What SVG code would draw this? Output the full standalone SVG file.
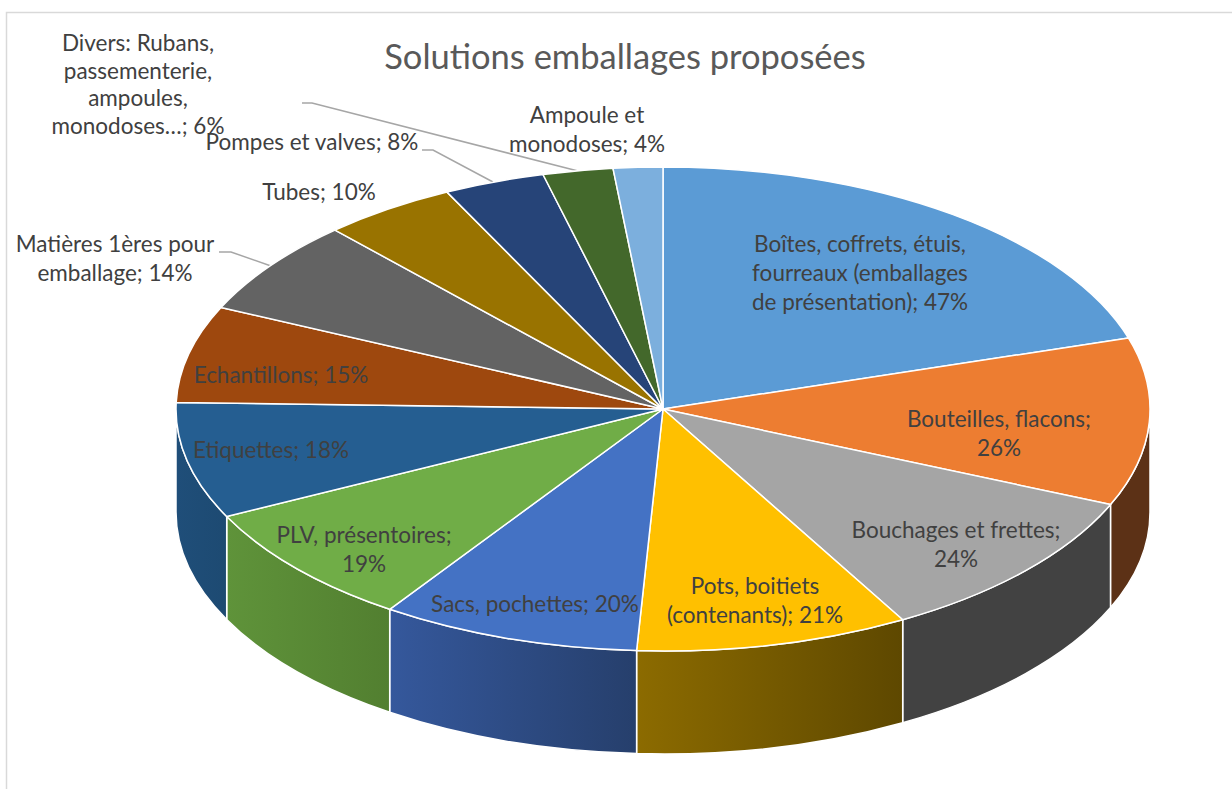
<svg xmlns="http://www.w3.org/2000/svg" width="1232" height="789" viewBox="0 0 1232 789">
<defs>
<style>
.t{stroke:#fff;stroke-width:1.5;stroke-linejoin:round}
.s{stroke:#fff;stroke-width:1.5;stroke-linejoin:round}
.lb{font-family:Lato,"Liberation Sans",sans-serif;font-size:22.5px;fill:#404040;text-anchor:middle}
.ttl{font-family:Lato,"Liberation Sans",sans-serif;font-size:34.5px;fill:#595959;text-anchor:middle}
.ld{fill:none;stroke:#A6A6A6;stroke-width:1.5}
</style>
<linearGradient id="gPots" x1="0" y1="0" x2="1" y2="0"><stop offset="0" stop-color="#8C6B00"/><stop offset="1" stop-color="#5E4800"/></linearGradient>
<linearGradient id="gSacs" x1="0" y1="0" x2="1" y2="0"><stop offset="0" stop-color="#35589C"/><stop offset="1" stop-color="#263F6C"/></linearGradient>
<linearGradient id="gPlv" x1="0" y1="0" x2="1" y2="0"><stop offset="0" stop-color="#5F933A"/><stop offset="1" stop-color="#527F30"/></linearGradient>
<linearGradient id="gEti" x1="0" y1="0" x2="1" y2="0"><stop offset="0" stop-color="#1F4E79"/><stop offset="1" stop-color="#1D4A72"/></linearGradient>
</defs>
<rect x="6.5" y="12.5" width="1240" height="800" fill="#fff" stroke="#D9D9D9" stroke-width="1.5"/>
<text class="ttl" x="625" y="69">Solutions emballages proposées</text>

<g id="connectors">
<polyline class="ld" points="302,103 312,103 578,171"/>
<polyline class="ld" points="422,150 433,150 493,182"/>
<polyline class="ld" points="219,252 231,252 271,266"/>
</g>

<g id="sides">
<path class="s" fill="#5C3116" d="M1150,409 A487,242 0 0 1 1110.5,504.6 L1110.5,607.6 A487,242 0 0 0 1150,512 Z"/>
<path class="s" fill="#424242" d="M1110.5,504.6 A487,242 0 0 1 902.7,619.7 L902.7,722.7 A487,242 0 0 0 1110.5,607.6 Z"/>
<path class="s" fill="url(#gPots)" d="M902.7,619.7 A487,242 0 0 1 636.6,650.6 L636.6,753.6 A487,242 0 0 0 902.7,722.7 Z"/>
<path class="s" fill="url(#gSacs)" d="M636.6,650.6 A487,242 0 0 1 389.7,609.3 L389.7,712.3 A487,242 0 0 0 636.6,753.6 Z"/>
<path class="s" fill="url(#gPlv)" d="M389.7,609.3 A487,242 0 0 1 226.7,516.5 L226.7,619.5 A487,242 0 0 0 389.7,712.3 Z"/>
<path class="s" fill="url(#gEti)" d="M226.7,516.5 A487,242 0 0 1 176,409 L176,512 A487,242 0 0 0 226.7,619.5 Z"/>
</g>

<g id="boites">
<path class="t" fill="#5B9BD5" d="M663,409 L663,167 A487,242 0 0 1 1128.5,338 Z"/>
<text class="lb" x="860" y="252">Boîtes, coffrets, étuis,</text>
<text class="lb" x="860" y="281">fourreaux (emballages</text>
<text class="lb" x="860" y="310">de présentation); 47%</text>
</g>
<g id="bouteilles">
<path class="t" fill="#ED7D31" d="M663,409 L1128.5,338 A487,242 0 0 1 1110.5,504.6 Z"/>
<text class="lb" x="999" y="427">Bouteilles, flacons;</text>
<text class="lb" x="999" y="456">26%</text>
</g>
<g id="bouchages">
<path class="t" fill="#A5A5A5" d="M663,409 L1110.5,504.6 A487,242 0 0 1 902.7,619.7 Z"/>
<text class="lb" x="956" y="538">Bouchages et frettes;</text>
<text class="lb" x="956" y="567">24%</text>
</g>
<g id="pots">
<path class="t" fill="#FFC000" d="M663,409 L902.7,619.7 A487,242 0 0 1 636.6,650.6 Z"/>
<text class="lb" x="755" y="594">Pots, boitiets</text>
<text class="lb" x="755" y="623">(contenants); 21%</text>
</g>
<g id="sacs">
<path class="t" fill="#4472C4" d="M663,409 L636.6,650.6 A487,242 0 0 1 389.7,609.3 Z"/>
<text class="lb" x="535" y="612">Sacs, pochettes; 20%</text>
</g>
<g id="plv">
<path class="t" fill="#70AD47" d="M663,409 L389.7,609.3 A487,242 0 0 1 226.7,516.5 Z"/>
<text class="lb" x="364" y="543">PLV, présentoires;</text>
<text class="lb" x="364" y="572">19%</text>
</g>
<g id="etiquettes">
<path class="t" fill="#255E91" d="M663,409 L226.7,516.5 A487,242 0 0 1 176.2,402.4 Z"/>
<text class="lb" x="271" y="458">Etiquettes; 18%</text>
</g>
<g id="echantillons">
<path class="t" fill="#9E480E" d="M663,409 L176.2,402.4 A487,242 0 0 1 221,307.4 Z"/>
<text class="lb" x="281" y="383">Echantillons; 15%</text>
</g>
<g id="matieres">
<path class="t" fill="#636363" d="M663,409 L221,307.4 A487,242 0 0 1 335,230.1 Z"/>
<text class="lb" x="115" y="252">Matières 1ères pour</text>
<text class="lb" x="115" y="281">emballage; 14%</text>
</g>
<g id="tubes">
<path class="t" fill="#997300" d="M663,409 L335,230.1 A487,242 0 0 1 447,192.1 Z"/>
<text class="lb" x="319" y="200">Tubes; 10%</text>
</g>
<g id="pompes">
<path class="t" fill="#264478" d="M663,409 L447,192.1 A487,242 0 0 1 543,174.5 Z"/>
<text class="lb" x="312" y="150">Pompes et valves; 8%</text>
</g>
<g id="divers">
<path class="t" fill="#43682B" d="M663,409 L543,174.5 A487,242 0 0 1 613,168.3 Z"/>
<text class="lb" x="138" y="51">Divers: Rubans,</text>
<text class="lb" x="138" y="79">passementerie,</text>
<text class="lb" x="138" y="106">ampoules,</text>
<text class="lb" x="138" y="134">monodoses…; 6%</text>
</g>
<g id="ampoule">
<path class="t" fill="#7CAFDD" d="M663,409 L613,168.3 A487,242 0 0 1 663,167 Z"/>
<text class="lb" x="587" y="123">Ampoule et</text>
<text class="lb" x="587" y="152">monodoses; 4%</text>
</g>
</svg>
